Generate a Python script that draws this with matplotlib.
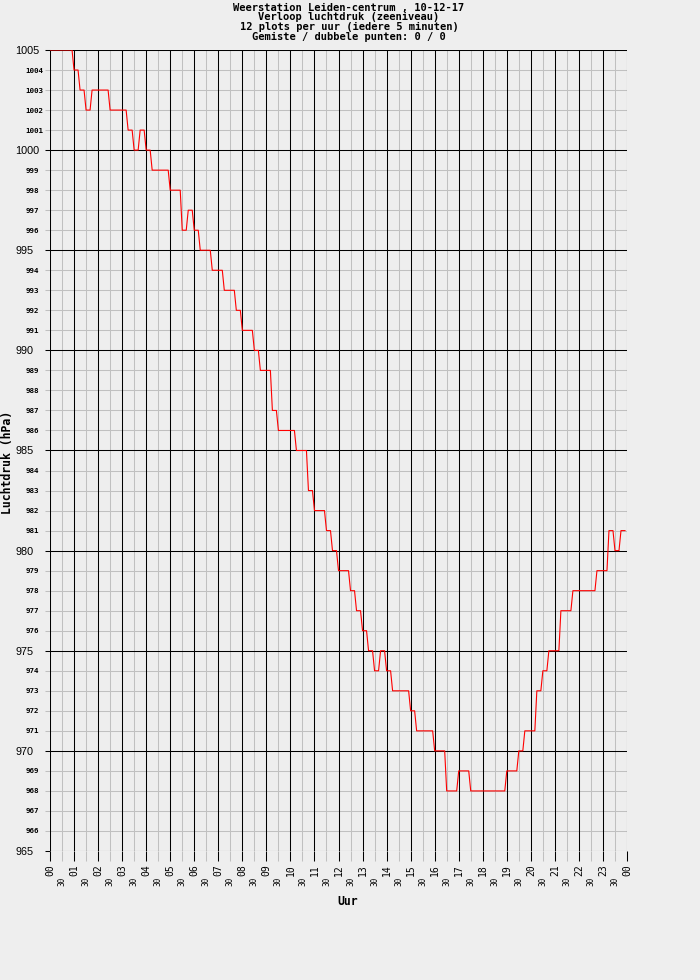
import matplotlib
matplotlib.use('Agg')
import matplotlib.pyplot as plt
import numpy as np

# pressure levels (hPa) and how many 5-minute readings each level lasts
levels = [1005, 1004, 1003, 1002, 1003, 1002, 1001, 1000, 1001, 1000, 999,
          998, 996, 997, 996, 995, 994, 993, 992, 991, 990, 989, 987, 986,
          985, 983, 982, 981, 980, 979, 978, 977, 976, 975, 974, 975, 974, 973,
          972, 971, 970, 968, 969, 968, 969, 970, 971,
          973, 974, 975, 977, 978, 979, 981, 980, 981]
runs = [12, 3, 3, 3, 9, 9, 3, 3, 3, 3, 9,
        6, 3, 3, 3, 6, 6, 6, 3, 6, 3, 6, 3, 9,
        6, 3, 6, 3, 3, 6, 3, 3, 3, 3, 3, 3, 3, 9,
        3, 9, 6, 6, 6, 18, 6, 3, 6,
        3, 3, 6, 6, 12, 6, 3, 3, 3]

pressure = np.repeat(levels, runs)
hours = np.arange(len(pressure)) / 12.0

hour_ticks = list(range(25))
hour_labels = ['%02d' % (h % 24) for h in hour_ticks]
half_ticks = [h + 0.5 for h in range(24)]
half_labels = ['30'] * 24

major_p = list(range(965, 1006, 5))
minor_p = [p for p in range(965, 1006) if p % 5]

bg = '#eeeeee'
gray = '#c0c0c0'
lw = 0.75
mono = 'DejaVu Sans Mono'

fig = plt.figure(figsize=(7, 9.8), dpi=100, facecolor=bg)
ax = fig.add_axes([50/700, 129/980, 577/700, 801/980])
ax.set_facecolor(bg)

# grid: gray first, then black on top
for p in minor_p:
    ax.axhline(p, color=gray, lw=lw, zorder=1)
for t in half_ticks:
    ax.axvline(t, color=gray, lw=lw, zorder=1)
for p in major_p:
    ax.axhline(p, color='black', lw=lw, zorder=2)
for t in hour_ticks:
    ax.axvline(t, color='black', lw=lw, zorder=2)

ax.plot(hours, pressure, color='#ff0000', lw=0.8, zorder=3)

ax.set_xlim(0, 24)
ax.set_ylim(965, 1005)
for s in ax.spines.values():
    s.set_visible(False)

# y labels are left aligned in the reference
ax.set_yticks(major_p)
ax.set_yticklabels([str(p) for p in major_p], fontsize=7.8,
                   fontfamily='Liberation Sans', ha='left')
ax.set_yticks(minor_p, minor=True)
ax.set_yticklabels([str(p) for p in minor_p], minor=True, fontsize=5.4,
                   fontfamily=mono, fontweight='bold', ha='left')
ax.tick_params(axis='y', which='major', length=3.6, width=lw, color='black', pad=21.6)
ax.tick_params(axis='y', which='minor', length=3.6, width=lw, color=gray, pad=14.0)

ax.set_xticks(hour_ticks)
ax.set_xticklabels(hour_labels, rotation=90, fontsize=7, fontfamily=mono)
ax.set_xticks(half_ticks, minor=True)
ax.set_xticklabels(half_labels, minor=True, rotation=90, fontsize=5.6, fontfamily=mono)
ax.tick_params(axis='x', which='major', length=7.2, width=lw, color='black', pad=2.2)
ax.tick_params(axis='x', which='minor', length=7.2, width=lw, color=gray, pad=11.3)

titles = ['Weerstation Leiden-centrum , 10-12-17',
          'Verloop luchtdruk (zeeniveau)',
          '12 plots per uur (iedere 5 minuten)',
          'Gemiste / dubbele punten: 0 / 0']
for k, line in enumerate(titles):
    fig.text(349/700, 1 - (10.5 + 10*k)/980, line, ha='center', va='baseline',
             fontsize=7.5, fontfamily=mono, fontweight='bold')

fig.text(8/700, 1 - 462/980, 'Luchtdruk (hPa)', rotation=90, ha='center', va='center',
         fontsize=8.3, fontfamily=mono, fontweight='bold')
fig.text(348/700, 1 - 901/980, 'Uur', ha='center', va='center',
         fontsize=8.3, fontfamily=mono, fontweight='bold')

fig.savefig('out.png', dpi=100, facecolor=bg)
